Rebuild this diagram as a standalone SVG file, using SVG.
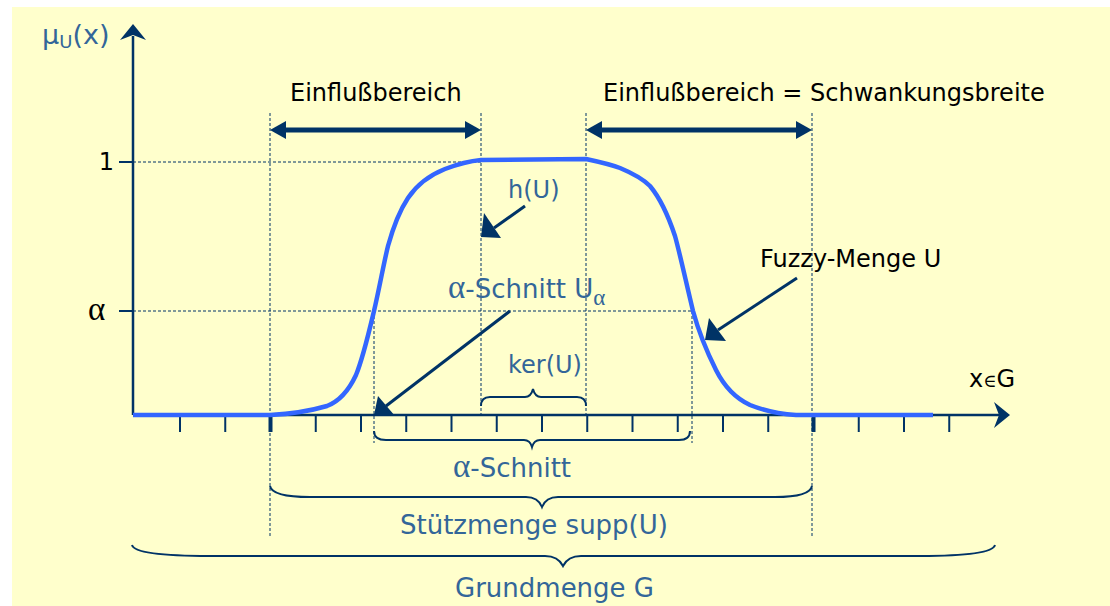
<svg xmlns="http://www.w3.org/2000/svg" width="1110" height="606" viewBox="0 0 1110 606">
<style>
.bg{fill:#FFFFCC}
.ax{stroke:#003366;stroke-width:2.5;fill:none}
.tick{stroke:#003366;stroke-width:2;fill:none}
.tickb{stroke:#003366;stroke-width:4;fill:none}
.dot{stroke:#003366;stroke-width:1;stroke-dasharray:3 2;fill:none}
.curve{stroke:#3366FF;stroke-width:4.5;fill:none;stroke-linejoin:round}
.brace{stroke:#003366;stroke-width:2;fill:none}
.arr{stroke:#003366;stroke-width:3;fill:none}
.darr{stroke:#003366;stroke-width:5;fill:none}
.head{fill:#003366}
.tk{font-family:"DejaVu Sans",Verdana,sans-serif;font-size:24px;fill:#000}
.tb{font-family:"DejaVu Sans",Verdana,sans-serif;font-size:26px;fill:#336699}
.ts{font-family:"DejaVu Sans",Verdana,sans-serif;font-size:24px;fill:#336699}
.sym{font-family:"Liberation Serif","DejaVu Serif",serif}
</style>
<rect class="bg" x="12" y="7" width="1098" height="599"/>

<g id="grid">
<line class="dot" x1="133" y1="162" x2="481" y2="162"/>
<line class="dot" x1="133" y1="311" x2="692" y2="311"/>
<line class="dot" x1="270" y1="113" x2="270" y2="536"/>
<line class="dot" x1="481" y1="113" x2="481" y2="415"/>
<line class="dot" x1="586" y1="113" x2="586" y2="415"/>
<line class="dot" x1="812" y1="113" x2="812" y2="536"/>
<line class="dot" x1="374" y1="311" x2="374" y2="443"/>
<line class="dot" x1="692" y1="311" x2="692" y2="443"/>
</g>

<g id="axes">
<line class="ax" x1="133" y1="415" x2="133" y2="36"/>
<path class="head" d="M133,24 L146,40 L133,35 L120,40 Z"/>
<line class="ax" x1="133" y1="415" x2="1000" y2="415"/>
<path class="head" d="M1010,415 L994,428 L999,415 L994,402 Z"/>
<line class="tick" x1="119" y1="162" x2="133" y2="162"/>
<line class="tick" x1="119" y1="311" x2="133" y2="311"/>
<g id="ticks">
<line class="tick" x1="180" y1="415" x2="180" y2="432"/>
<line class="tick" x1="225.25" y1="415" x2="225.25" y2="432"/>
<line class="tickb" x1="270.5" y1="415" x2="270.5" y2="432"/>
<line class="tick" x1="315.75" y1="415" x2="315.75" y2="432"/>
<line class="tick" x1="361" y1="415" x2="361" y2="432"/>
<line class="tick" x1="406.25" y1="415" x2="406.25" y2="432"/>
<line class="tick" x1="451.5" y1="415" x2="451.5" y2="432"/>
<line class="tick" x1="496.75" y1="415" x2="496.75" y2="432"/>
<line class="tick" x1="542" y1="415" x2="542" y2="432"/>
<line class="tick" x1="587.25" y1="415" x2="587.25" y2="432"/>
<line class="tick" x1="632.5" y1="415" x2="632.5" y2="432"/>
<line class="tick" x1="677.75" y1="415" x2="677.75" y2="432"/>
<line class="tick" x1="723" y1="415" x2="723" y2="432"/>
<line class="tick" x1="768.25" y1="415" x2="768.25" y2="432"/>
<line class="tickb" x1="813.5" y1="415" x2="813.5" y2="432"/>
<line class="tick" x1="858.75" y1="415" x2="858.75" y2="432"/>
<line class="tick" x1="904" y1="415" x2="904" y2="432"/>
<line class="tick" x1="949.25" y1="415" x2="949.25" y2="432"/>
</g>
<text class="tk" x="114" y="170" text-anchor="end">1</text>
<text class="tk sym" x="88" y="320" style="font-size:33px">α</text>
<text class="ts" x="42" y="44" style="font-size:27px"><tspan>μ</tspan><tspan font-size="18" dy="4">U</tspan><tspan dy="-4">(x)</tspan></text>
<text class="tk" x="969" y="387">x<tspan class="sym" font-size="18">∈</tspan>G</text>
</g>

<g id="fuzzy-curve">
<path class="curve" d="M133,415 L270,415 C290,414 310,411 327,406 C340,401 349,390 356,375 C363,358 369,332 374,311 C379,290 384,262 388,246 C393,228 400,210 408,198 C418,183 430,175 445,169 C458,164 470,161 481,160 L586,159 C600,162 612,165 620,168 C632,173 642,178 650,186 C660,198 668,215 675,236 C680,254 686,282 693,311 C699,333 706,350 716,370 C724,386 735,398 750,405 C765,411 780,414 796,415 L933,415"/>
</g>

<g id="connectors">
<g id="einfluss-left">
<line class="darr" x1="282" y1="130" x2="469" y2="130"/>
<path class="head" d="M270,130 L286,121 L286,139 Z"/>
<path class="head" d="M481,130 L465,121 L465,139 Z"/>
</g>
<g id="einfluss-right">
<line class="darr" x1="598" y1="130" x2="800" y2="130"/>
<path class="head" d="M586,130 L602,121 L602,139 Z"/>
<path class="head" d="M812,130 L796,121 L796,139 Z"/>
</g>
<g id="arrow-h">
<line class="arr" x1="525" y1="206" x2="494" y2="228"/>
<path class="head" d="M481,237 L484,213 L501,238 Z"/>
</g>
<g id="arrow-alpha">
<line class="arr" x1="510" y1="311" x2="386" y2="406"/>
<path class="head" d="M374,415 L378,396 L395,416 Z"/>
</g>
<g id="arrow-fuzzy">
<line class="arr" x1="797" y1="278" x2="718" y2="330"/>
<path class="head" d="M705,340 L709,318 L726,341 Z"/>
</g>
</g>

<g id="braces">
<path class="brace" d="M481,406 Q481,397 490,397 L525,397 Q531,397 533,389 Q535,397 541,397 L577,397 Q586,397 586,406"/>
<path class="brace" d="M374,431 Q374,440 386,440 L524,440 Q530,440 532,447 Q534,440 540,440 L679,440 Q690,440 690,431"/>
<path class="brace" d="M270,486 Q272,497 310,497 L526,497 Q538,497 542,507 Q546,497 558,497 L775,497 Q810,497 812,486"/>
<path class="brace" d="M132,545 Q135,556 210,556 L545,556 Q558,556 563,566 Q568,556 581,556 L920,556 Q992,556 995,545"/>
</g>

<g id="labels">
<text class="tk" x="290" y="101">Einflußbereich</text>
<text class="tk" x="603" y="101">Einflußbereich = Schwankungsbreite</text>
<text class="ts" x="508" y="198">h(U)</text>
<text class="tb" x="448" y="298"><tspan class="sym" font-size="33">α</tspan>-Schnitt U<tspan class="sym" font-size="23" dy="7">α</tspan></text>
<text class="tk" x="760" y="267">Fuzzy-Menge U</text>
<text class="ts" x="508" y="373">ker(U)</text>
<text class="tb" x="453" y="477"><tspan class="sym" font-size="33">α</tspan>-Schnitt</text>
<text class="tb" x="400" y="534">Stützmenge supp(U)</text>
<text class="tb" x="455" y="597">Grundmenge G</text>
</g>
</svg>
